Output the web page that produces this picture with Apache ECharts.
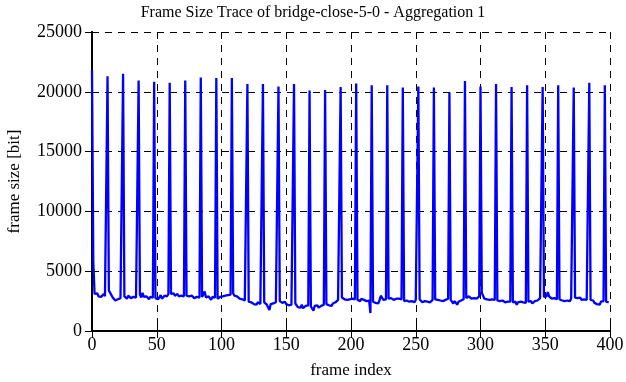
<!DOCTYPE html>
<html>
<head>
<meta charset="utf-8">
<script src="https://cdn.jsdelivr.net/npm/echarts@6/dist/echarts.min.js"></script>
<style>html,body{margin:0;padding:0;background:#fff}#c{width:626px;height:382px}</style>
</head>
<body>
<div id="c"></div>
<script>
var titleText = "Frame Size Trace of bridge-close-5-0 - Aggregation 1";
var xName = "frame index";
var yName = "frame size [bit]";
var xTicks = [0, 50, 100, 150, 200, 250, 300, 350, 400];
var yTicks = [0, 5000, 10000, 15000, 20000, 25000];
// frame sizes in bits, one GOP (12 frames) per row
var frameSizes = [
21800,5800,3100,2950,3150,2900,3050,2850,3000,3100,2900,3050,
21300,3400,3250,3000,2800,2700,2550,2500,2650,2800,2750,2900,
21500,2900,2850,2700,2950,2800,2750,2900,2850,2700,2800,2950,
20950,3050,2800,3200,2850,2750,2900,2800,2650,2850,2900,2800,
20850,2750,2900,2650,2800,3000,2700,2850,2950,2800,2900,3100,
20750,3100,3000,3150,2950,3050,3100,2900,3000,2950,2850,2900,
20950,2950,2850,2900,2800,2950,2850,2750,2900,2850,2950,2800,
21200,2850,2700,3300,2800,2650,2900,2750,2600,2850,2700,2800,
21150,2700,2600,2850,3000,2900,3050,2950,2850,3000,2900,3050,
21150,3150,2950,3100,2900,2850,2700,2800,2650,2600,2550,2500,
20650,2450,2350,2400,2300,2250,2350,2200,2400,2300,2250,2350,
20650,2400,2300,2200,2050,1750,2250,2150,2300,2200,2400,2350,
20450,2500,2400,2350,2300,2450,2250,2100,2150,2050,2200,2100,
20650,2300,2150,2000,2100,1950,2200,1900,2050,2100,2000,2150,
20100,2050,2000,1700,2100,2000,2150,1950,2050,2100,2000,2200,
20150,2250,2300,2150,2250,2100,2300,2200,2400,2350,2600,2750,
20400,2800,2700,2650,2750,2600,2700,2650,2550,2700,2600,2650,
20700,2600,2650,2500,2700,2550,2600,2650,2500,2400,2550,1500,
20550,2450,2500,2350,2450,2300,2550,2950,2850,2600,2500,2650,
20550,2700,2650,2750,2700,2600,2750,2700,2650,2700,2600,2650,
20350,2500,2450,2550,2400,2450,2350,2500,2450,2400,2600,2500,
20450,2650,2550,2400,2300,2500,2350,2450,2300,2400,2550,2600,
20350,2650,2550,2600,2700,2550,2600,2500,2650,2600,2550,2700,
19950,2600,2450,2300,2500,2350,2200,2450,2300,2550,2400,2650,
20900,2750,2850,2900,2800,2700,2850,2750,2800,2700,2850,2900,
20450,3200,2950,2700,2600,2650,2550,2600,2500,2650,2550,2600,
20650,2550,2600,2500,2450,2550,2500,2400,2500,2450,2550,2450,
20400,2400,2350,2450,2200,2400,2300,2450,2350,2400,2300,2350,
20550,2450,2350,2500,2300,2400,2500,2450,2550,2600,2750,2800,
20400,2850,2750,2900,3250,2900,2800,2700,2850,2750,2700,2650,
20550,2650,2700,2550,2600,2500,2650,2550,2600,2500,2700,2750,
20350,2800,2700,2750,2650,2800,2600,2700,2650,2750,2600,2650,
20750,2600,2450,2550,2350,2500,2250,2400,2200,2450,2350,2500,
20550,2450,2500,2400
];

var FONT = "'Liberation Serif', 'DejaVu Serif', serif";
var data = frameSizes.map(function (v, i) { return [i, v]; });
var xMin = xTicks[0], xMax = xTicks[xTicks.length - 1], xStep = xTicks[1] - xTicks[0];
var yMin = yTicks[0], yMax = yTicks[yTicks.length - 1], yStep = yTicks[1] - yTicks[0];
var plain = function (v) { return String(v); };

var chart = echarts.init(document.getElementById('c'), null, {renderer: 'canvas'});
var tickStyle = {show: true, inside: true, length: 7, lineStyle: {color: '#000', width: 1}};
var axisLine = {show: true, lineStyle: {color: '#000', width: 2}};
chart.setOption({
  animation: false,
  backgroundColor: '#fff',
  title: {
    text: titleText, left: 'center', top: 0,
    textStyle: {fontFamily: FONT, fontSize: 16, fontWeight: 'normal', color: '#000'}
  },
  grid: {left: 92, right: 16, top: 32, bottom: 51, containLabel: false, outerBoundsMode: 'none'},
  xAxis: [{
    type: 'value', min: xMin, max: xMax, interval: xStep, position: 'bottom',
    name: xName, nameLocation: 'middle', nameGap: 31,
    nameTextStyle: {fontFamily: FONT, fontSize: 17, color: '#000'},
    axisLine: axisLine, axisTick: tickStyle,
    axisLabel: {fontFamily: FONT, fontSize: 18, color: '#000', margin: 5, formatter: plain},
    splitLine: {show: true, lineStyle: {color: '#000', width: 1, type: [7, 6]}}
  }, {
    type: 'value', min: xMin, max: xMax, interval: xStep, position: 'top',
    axisLine: axisLine, axisTick: tickStyle, axisLabel: {show: false}, splitLine: {show: false}
  }],
  yAxis: [{
    type: 'value', min: yMin, max: yMax, interval: yStep, position: 'left',
    name: yName, nameLocation: 'middle', nameGap: 69, nameRotate: 90,
    nameTextStyle: {fontFamily: FONT, fontSize: 17, color: '#000'},
    axisLine: axisLine, axisTick: tickStyle,
    axisLabel: {fontFamily: FONT, fontSize: 18, color: '#000', margin: 10, formatter: plain},
    splitLine: {show: true, lineStyle: {color: '#000', width: 1, type: [7, 6]}}
  }, {
    type: 'value', min: yMin, max: yMax, interval: yStep, position: 'right',
    axisLine: axisLine, axisTick: tickStyle, axisLabel: {show: false}, splitLine: {show: false}
  }],
  series: [{
    type: 'line', data: data, xAxisIndex: 0, yAxisIndex: 0,
    showSymbol: false, symbol: 'none',
    lineStyle: {color: '#0000ff', width: 2.3}, z: 3
  }]
});
</script>
</body>
</html>
